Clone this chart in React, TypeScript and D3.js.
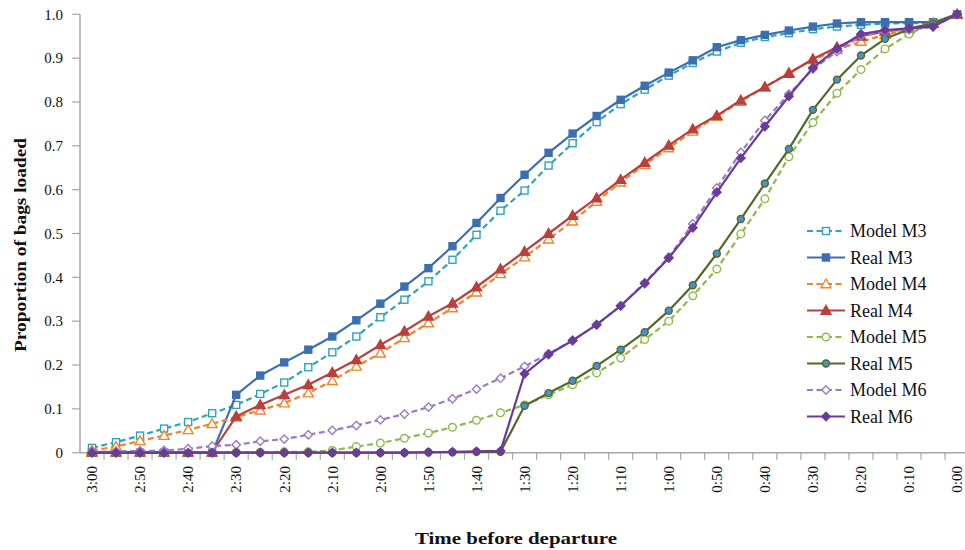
import React from "react";
import * as d3 from "d3";

const categories = ["3:00","2:55","2:50","2:45","2:40","2:35","2:30","2:25","2:20","2:15","2:10","2:05","2:00","1:55","1:50","1:45","1:40","1:35","1:30","1:25","1:20","1:15","1:10","1:05","1:00","0:55","0:50","0:45","0:40","0:35","0:30","0:25","0:20","0:15","0:10","0:05","0:00"];
const tickLabels = ["3:00","2:50","2:40","2:30","2:20","2:10","2:00","1:50","1:40","1:30","1:20","1:10","1:00","0:50","0:40","0:30","0:20","0:10","0:00"];
const yTicks = [0, 0.1, 0.2, 0.3, 0.4, 0.5, 0.6, 0.7, 0.8, 0.9, 1.0];

const modelM3 = [0.011,0.024,0.039,0.055,0.070,0.090,0.109,0.134,0.160,0.195,0.229,0.265,0.309,0.349,0.391,0.440,0.497,0.552,0.598,0.655,0.706,0.754,0.795,0.828,0.860,0.889,0.915,0.935,0.948,0.957,0.966,0.972,0.976,0.979,0.980,0.980,1.0];
const realM3 = [0,0,0,0,0,0,0.132,0.176,0.206,0.235,0.265,0.302,0.340,0.379,0.421,0.471,0.524,0.581,0.634,0.684,0.728,0.768,0.805,0.837,0.867,0.895,0.925,0.941,0.953,0.963,0.972,0.979,0.982,0.982,0.982,0.982,1.0];
const modelM4 = [0.005,0.014,0.027,0.039,0.052,0.066,0.081,0.097,0.113,0.136,0.164,0.197,0.227,0.262,0.296,0.330,0.366,0.408,0.446,0.487,0.528,0.573,0.617,0.657,0.695,0.733,0.767,0.801,0.834,0.867,0.896,0.919,0.938,0.953,0.966,0.979,1.0];
const realM4 = [0.001,0.001,0.001,0.001,0.001,0.001,0.083,0.109,0.132,0.155,0.183,0.212,0.246,0.277,0.311,0.341,0.378,0.419,0.459,0.500,0.541,0.581,0.623,0.662,0.701,0.738,0.769,0.804,0.834,0.865,0.898,0.925,0.950,0.961,0.968,0.979,1.0];
const modelM5 = [0,0,0,0,0.001,0.001,0.001,0.001,0.002,0.002,0.005,0.014,0.022,0.033,0.045,0.058,0.074,0.091,0.109,0.132,0.155,0.182,0.216,0.258,0.300,0.358,0.419,0.499,0.579,0.675,0.753,0.820,0.874,0.921,0.955,0.980,1.0];
const realM5 = [0,0,0,0,0,0,0,0,0,0,0,0,0,0,0.001,0.001,0.002,0.002,0.107,0.136,0.164,0.198,0.235,0.275,0.324,0.382,0.454,0.533,0.614,0.693,0.782,0.851,0.906,0.944,0.966,0.979,1.0];
const modelM6 = [0.002,0.003,0.004,0.005,0.009,0.015,0.018,0.026,0.031,0.041,0.051,0.062,0.075,0.088,0.104,0.123,0.145,0.170,0.197,0.226,0.256,0.292,0.335,0.388,0.446,0.522,0.604,0.685,0.758,0.818,0.875,0.915,0.951,0.961,0.965,0.971,1.0];
const realM6 = [0,0,0,0,0,0,0,0,0,0,0,0,0,0,0.001,0.002,0.003,0.004,0.180,0.224,0.256,0.292,0.335,0.386,0.444,0.513,0.594,0.672,0.744,0.813,0.878,0.921,0.955,0.964,0.968,0.972,1.0];

type Marker = "square" | "triangle" | "circle" | "diamond";
interface Series { name: string; values: number[]; color: string; dashed: boolean; marker: Marker; fill: string; }

const series: Series[] = [
  { name: "Model M3", values: modelM3, color: "#2fa4bb", dashed: true, marker: "square", fill: "#ffffff" },
  { name: "Real M3", values: realM3, color: "#3c6fb1", dashed: false, marker: "square", fill: "#3c6fb1" },
  { name: "Model M4", values: modelM4, color: "#f0852d", dashed: true, marker: "triangle", fill: "#ffffff" },
  { name: "Real M4", values: realM4, color: "#bb3f3c", dashed: false, marker: "triangle", fill: "#bb3f3c" },
  { name: "Model M5", values: modelM5, color: "#8fba4b", dashed: true, marker: "circle", fill: "#ffffff" },
  { name: "Real M5", values: realM5, color: "#4e6b25", dashed: false, marker: "circle", fill: "#4b8fcc" },
  { name: "Model M6", values: modelM6, color: "#9a7cc4", dashed: true, marker: "diamond", fill: "#ffffff" },
  { name: "Real M6", values: realM6, color: "#693c98", dashed: false, marker: "diamond", fill: "#693c98" },
];

const FONT = "'Liberation Serif', 'Times New Roman', serif";

function MarkerShape({ type, x, y, color, fill }: { type: Marker; x: number; y: number; color: string; fill: string }) {
  const sw = 1.4;
  if (type === "square") {
    const s = 7;
    return <rect x={x - s / 2} y={y - s / 2} width={s} height={s} fill={fill} stroke={color} strokeWidth={sw} />;
  }
  if (type === "triangle") {
    const s = 5;
    const p = `${x},${y - s} ${x + s},${y + s * 0.75} ${x - s},${y + s * 0.75}`;
    return <polygon points={p} fill={fill} stroke={color} strokeWidth={sw} />;
  }
  if (type === "circle") {
    return <circle cx={x} cy={y} r={fill === "#ffffff" ? 3.8 : 3.5} fill={fill} stroke={color} strokeWidth={sw} />;
  }
  const s = 4.2;
  const p = `${x},${y - s} ${x + s},${y} ${x},${y + s} ${x - s},${y}`;
  return <polygon points={p} fill={fill} stroke={color} strokeWidth={sw} />;
}

export default function App() {
  const W = 965, H = 550;
  const left = 80;
  const bandW = 24.03;
  const x = d3.scaleBand<string>().domain(categories).range([left, left + bandW * categories.length]).padding(0);
  const cx = (c: string) => (x(c) as number) + x.bandwidth() / 2;
  const y = d3.scaleLinear().domain([0, 1]).range([452.7, 14.3]);
  const line = d3.line<number>().x((_, i) => cx(categories[i])).y((d) => y(d));

  const legendX0 = 807, legendX1 = 845, legendY0 = 231, legendStep = 26.5;

  return (
    <svg width={W} height={H} style={{ position: "absolute", left: 0, top: 0, background: "#fff" }} fontFamily={FONT}>
      {/* y axis */}
      <line x1={left} x2={left} y1={y(1)} y2={y(0)} stroke="#a6a6a6" strokeWidth={1.5} />
      {yTicks.map((t) => (
        <g key={t}>
          <line x1={left - 8} x2={left} y1={y(t)} y2={y(t)} stroke="#a6a6a6" strokeWidth={1.2} />
          <text x={63} y={y(t)} dy="0.35em" textAnchor="end" fontSize={15} fill="#111">{t === 0 ? "0" : t.toFixed(1)}</text>
        </g>
      ))}
      {/* x axis */}
      <line x1={left} x2={W} y1={y(0)} y2={y(0)} stroke="#a6a6a6" strokeWidth={1.5} />
      {categories.map((c) => (
        <line key={c} x1={(x(c) as number) + bandW} x2={(x(c) as number) + bandW} y1={y(0)} y2={y(0) + 7} stroke="#a6a6a6" strokeWidth={1.2} />
      ))}
      {tickLabels.map((c) => (
        <text key={c} transform={`translate(${cx(c)},${466}) rotate(-90)`} textAnchor="end" dy="0.35em" fontSize={15} fill="#111">{c}</text>
      ))}
      {/* series */}
      {series.map((s) => (
        <g key={s.name}>
          <path d={line(s.values) as string} fill="none" stroke={s.color} strokeWidth={2.2} strokeDasharray={s.dashed ? "6,3.5" : undefined} />
          {s.values.map((v, i) => (
            <MarkerShape key={i} type={s.marker} x={cx(categories[i])} y={y(v)} color={s.color} fill={s.fill} />
          ))}
        </g>
      ))}
      {/* legend */}
      {series.map((s, i) => {
        const ly = legendY0 + i * legendStep;
        return (
          <g key={s.name}>
            <line x1={legendX0} x2={legendX1} y1={ly} y2={ly} stroke={s.color} strokeWidth={2.2} strokeDasharray={s.dashed ? "6,3.5" : undefined} />
            <MarkerShape type={s.marker} x={(legendX0 + legendX1) / 2} y={ly} color={s.color} fill={s.fill} />
            <text x={850} y={ly} dy="0.35em" fontSize={18} fill="#111">{s.name}</text>
          </g>
        );
      })}
      {/* axis titles */}
      <text transform={`translate(20,245) rotate(-90)`} textAnchor="middle" dy="0.35em" fontSize={17} fontWeight="bold" fill="#111" textLength={214} lengthAdjust="spacingAndGlyphs">Proportion of bags loaded</text>
      <text x={516} y={538} textAnchor="middle" dy="0.35em" fontSize={17} fontWeight="bold" fill="#111" textLength={202} lengthAdjust="spacingAndGlyphs">Time before departure</text>
    </svg>
  );
}
